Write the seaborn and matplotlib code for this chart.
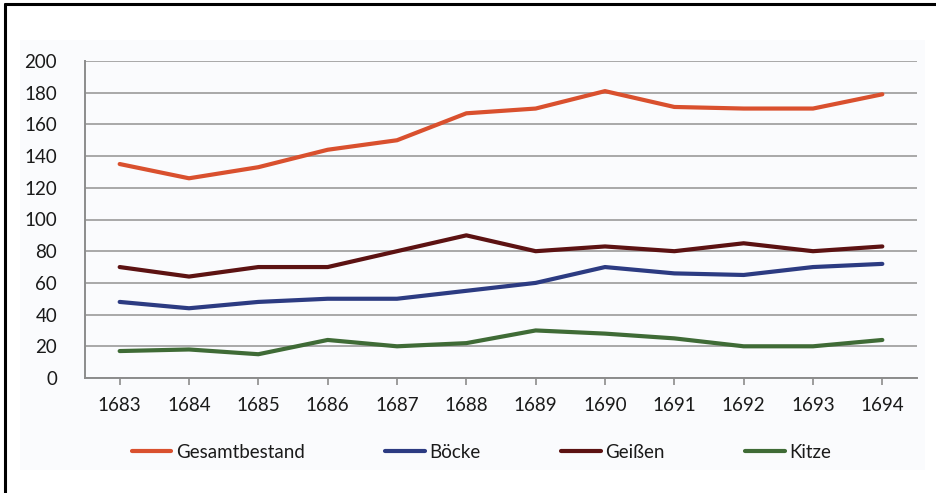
import matplotlib
matplotlib.use("Agg")
import matplotlib.pyplot as plt
from matplotlib.lines import Line2D
from matplotlib.patches import Rectangle
import pandas as pd
import seaborn as sns

years = [1683, 1684, 1685, 1686, 1687, 1688, 1689, 1690, 1691, 1692, 1693, 1694]
gesamtbestand = [135, 126, 133, 144, 150, 167, 170, 181, 171, 170, 170, 179]
boecke = [48, 44, 48, 50, 50, 55, 60, 70, 66, 65, 70, 72]
geissen = [70, 64, 70, 70, 80, 90, 80, 83, 80, 85, 80, 83]
kitze = [17, 18, 15, 24, 20, 22, 30, 28, 25, 20, 20, 24]

series_names = ["Gesamtbestand", "Böcke", "Geißen", "Kitze"]
series_values = [gesamtbestand, boecke, geissen, kitze]
colors = ["#D9502E", "#2C3B82", "#5C1212", "#3F6B36"]
y_ticks = [0, 20, 40, 60, 80, 100, 120, 140, 160, 180, 200]

df = pd.DataFrame(
    [(y, name, v) for name, vals in zip(series_names, series_values) for y, v in zip(years, vals)],
    columns=["Jahr", "Reihe", "Anzahl"],
)

sns.set_theme(style="white")
plt.rcParams["font.family"] = ["Lato", "DejaVu Sans"]

FS = 13.5
TXT = "#1A1A1A"

fig = plt.figure(figsize=(9.37, 4.93), dpi=100)
fig.patch.set_facecolor("white")

# pale chart panel and the outer frame lines
fig.add_artist(Rectangle((20 / 937, 1 - 470 / 493), 905 / 937, 430 / 493,
                         transform=fig.transFigure, facecolor="#FAFBFD",
                         edgecolor="none", zorder=0))
fig.add_artist(Line2D([5 / 937, 5 / 937], [0, 1 - 4 / 493], transform=fig.transFigure,
                      color="black", lw=2.2))
fig.add_artist(Line2D([5 / 937, 1], [1 - 4 / 493, 1 - 4 / 493], transform=fig.transFigure,
                      color="black", lw=2.2))

ax = fig.add_axes([85 / 937, 1 - 378 / 493, 832 / 937, 317 / 493])
ax.set_facecolor("none")

sns.lineplot(data=df, x="Jahr", y="Anzahl", hue="Reihe", hue_order=series_names,
             palette=colors, linewidth=3.0, ax=ax, legend=False, zorder=3)

ax.set_xlim(years[0] - 0.5, years[-1] + 0.5)
ax.set_ylim(0, 200)
ax.set_yticks(y_ticks)
ax.set_xticks(years)
ax.set_xticklabels([str(y) for y in years])
ax.set_xlabel("")
ax.set_ylabel("")

ax.grid(axis="y", color="#A8A8A8", linewidth=1.4, zorder=1)
ax.grid(axis="x", visible=False)
for side in ["top", "right"]:
    ax.spines[side].set_visible(False)
for side in ["left", "bottom"]:
    ax.spines[side].set_color("#8C8C8C")
    ax.spines[side].set_linewidth(1.4)

ax.tick_params(axis="x", which="major", bottom=True, length=5, width=1.2,
               color="#8C8C8C", labelsize=FS, labelcolor=TXT, pad=9)
ax.tick_params(axis="y", left=False, labelsize=FS, labelcolor=TXT, pad=14)

handles = [Line2D([0], [0], color=c, lw=3.0) for c in colors]
fig.legend(handles, series_names, loc="center", bbox_to_anchor=(0.514, 1 - 452 / 493),
           ncol=4, frameon=False, fontsize=FS, handlelength=2.1,
           handletextpad=0.25, columnspacing=4.3, labelcolor=TXT)

fig.savefig("out.png", dpi=100)
